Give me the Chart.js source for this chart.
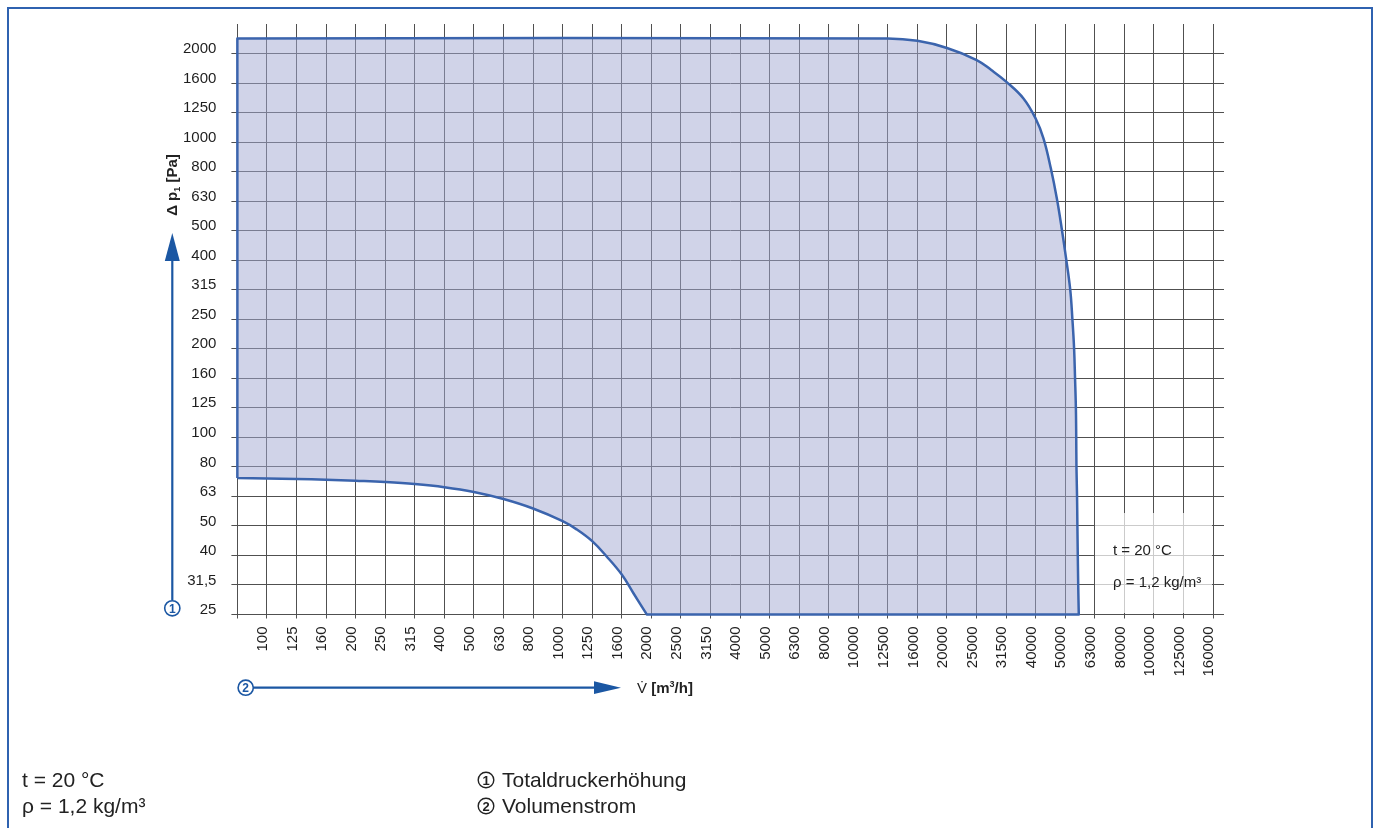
<!DOCTYPE html>
<html>
<head>
<meta charset="utf-8">
<title>Kennfeld</title>
<script src="https://cdn.jsdelivr.net/npm/chart.js@4.4.1/dist/chart.umd.min.js"></script>
<style>
  html, body { margin: 0; padding: 0; background: #fff; overflow: hidden; }
  body { width: 1376px; height: 828px; position: relative; font-family: "Liberation Sans", Arial, sans-serif; color: #222; }
  #frame { position: absolute; left: 7px; top: 7px; width: 1362px; height: 900px; border: 2px solid #2f62b0; }
  #chart { position: absolute; left: 0; top: 0; }
  #overlay { position: absolute; left: 0; top: 0; }
</style>
</head>
<body>
<div id="frame"></div>
<canvas id="chart" width="1376" height="828"></canvas>
<svg id="overlay" width="1376" height="828" font-family="Liberation Sans, Arial, sans-serif">
  <!-- Hinweisfeld im Diagramm -->
  <rect x="1095" y="513" width="117" height="100" fill="rgba(255,255,255,0.7)"/>
  <text x="1113" y="555" font-size="15" fill="#222">t = 20 °C</text>
  <text x="1113" y="587" font-size="15" fill="#222">ρ = 1,2 kg/m³</text>

  <!-- Pfeil 1: Totaldruckerhöhung -->
  <line x1="172.3" y1="600" x2="172.3" y2="258" stroke="#1b57a3" stroke-width="2.2"/>
  <polygon points="164.8,261 179.8,261 172.3,233" fill="#1b57a3"/>
  <circle cx="172.3" cy="608.3" r="7.6" fill="#fff" stroke="#1b57a3" stroke-width="1.6"/>
  <text x="172.3" y="612.6" text-anchor="middle" font-size="12" font-weight="bold" fill="#1b57a3">1</text>
  <text transform="translate(177,185) rotate(-90)" text-anchor="middle" font-size="15" font-weight="bold" fill="#222">Δ p<tspan font-size="9" dy="3">1</tspan><tspan dy="-3"> [Pa]</tspan></text>

  <!-- Pfeil 2: Volumenstrom -->
  <line x1="253" y1="687.7" x2="598" y2="687.7" stroke="#1b57a3" stroke-width="2.2"/>
  <polygon points="594,681.3 594,694.1 621,687.7" fill="#1b57a3"/>
  <circle cx="245.7" cy="687.7" r="7.6" fill="#fff" stroke="#1b57a3" stroke-width="1.6"/>
  <text x="245.7" y="692" text-anchor="middle" font-size="12" font-weight="bold" fill="#1b57a3">2</text>
  <text x="637" y="693" font-size="15" fill="#222">V̇ <tspan font-weight="bold">[m</tspan><tspan font-weight="bold" font-size="9" dy="-6">3</tspan><tspan font-weight="bold" dy="6">/h]</tspan></text>

  <!-- Legende unten -->
  <text x="22" y="787" font-size="21" fill="#222">t = 20 °C</text>
  <text x="22" y="813" font-size="21" fill="#222">ρ = 1,2 kg/m³</text>
  <circle cx="486" cy="780" r="7.8" fill="none" stroke="#222" stroke-width="1.4"/>
  <text x="486" y="785" text-anchor="middle" font-size="13" font-weight="bold" fill="#222">1</text>
  <text x="502" y="787" font-size="21" fill="#222">Totaldruckerhöhung</text>
  <circle cx="486" cy="806" r="7.8" fill="none" stroke="#222" stroke-width="1.4"/>
  <text x="486" y="811" text-anchor="middle" font-size="13" font-weight="bold" fill="#222">2</text>
  <text x="502" y="813" font-size="21" fill="#222">Volumenstrom</text>
</svg>

<script>
    const GRID_COLOR = '#505050';
    const LINE_COLOR = '#3b64ad';
    const FILL_COLOR = 'rgba(161,167,209,0.5)';
    const LABEL_COLOR = '#1e1e1e';

    // Achsbeschriftungen (Normzahlreihe R10)
    const xTickLabels = ['100', '125', '160', '200', '250', '315', '400', '500', '630', '800',
        '1000', '1250', '1600', '2000', '2500', '3150', '4000', '5000', '6300', '8000',
        '10000', '12500', '16000', '20000', '25000', '31500', '40000', '50000', '63000', '80000',
        '100000', '125000', '160000'];
    const yTickLabels = ['25', '31,5', '40', '50', '63', '80', '100', '125', '160', '200',
        '250', '315', '400', '500', '630', '800', '1000', '1250', '1600', '2000'];

    // obere / rechte Grenze des Kennfelds: Volumenstrom [m3/h] und Druck [Pa]
    const upperFlow = [79.4, 12590, 15850, 19950, 25150, 28180, 31700, 36200, 39800, 42300,
        44800, 46950, 48750, 50450, 52100, 53000, 53700, 54100, 54450, 54600,
        54700, 54950, 55100, 55450, 55700];
    const upperPressure = [2245, 2245, 2203, 2084, 1897, 1754, 1600, 1406, 1202, 1030,
        815, 644, 511, 404, 317, 251, 200, 158.5, 126, 100,
        79.4, 63.1, 50, 31.6, 25.1];

    // untere Grenze (von links nach rechts)
    const lowerFlow = [79.4, 100, 125.9, 158.5, 199.5, 251, 316, 398, 501, 631,
        794, 1000, 1115, 1259, 1409, 1585, 1734, 1928];
    const lowerPressure = [72.8, 72.6, 72.3, 71.9, 71.3, 70.6, 69.5, 67.8, 65.3, 61.8,
        57.4, 52.0, 48.8, 44.5, 39.5, 34.3, 29.7, 25.1];

    // Achsgrenzen: ein Kästchen links von 100 bzw. ueber 2000
    const X_MIN = 100 / Math.pow(10, 0.1);
    const X_MAX = 100 * Math.pow(10, 3.237);
    const Y_MIN = 25.12;
    const Y_MAX = Y_MIN * Math.pow(10, 2.0);

    // geschlossener Umriss; Ecken doppelt, damit die Spline dort nicht ausbeult
    function buildPolygon() {
        var points = [{x: lowerFlow[0], y: lowerPressure[0]}];
        var last = upperFlow.length - 1;
        for (var i = 0; i <= last; i++) {
            var p = {x: upperFlow[i], y: upperPressure[i]};
            points.push(p);
            if (i === 0 || i === last) points.push({x: p.x, y: p.y});
        }
        for (var j = lowerFlow.length - 1; j >= 0; j--) {
            var q = {x: lowerFlow[j], y: lowerPressure[j]};
            points.push(q);
            if (j === lowerFlow.length - 1) points.push({x: q.x, y: q.y});
        }
        return points;
    }

    function xTicks(axis) {
        var ticks = [{value: X_MIN}];
        xTickLabels.forEach((label, k) => ticks.push({value: 100 * Math.pow(10, k / 10)}));
        axis.ticks = ticks;
    }

    function yTicks(axis) {
        var ticks = [];
        for (var k = 0; k <= yTickLabels.length; k++) {
            ticks.push({value: Y_MIN * Math.pow(10, k / 10)});
        }
        axis.ticks = ticks;
    }

    var ctx = document.getElementById('chart').getContext('2d');
    var chart = new Chart(ctx, {
        type: 'scatter',
        data: {
            datasets: [{
                data: buildPolygon(),
                showLine: true,
                fill: 'shape',
                tension: 0.4,
                backgroundColor: FILL_COLOR,
                borderColor: LINE_COLOR,
                borderWidth: 2.5,
                borderJoinStyle: 'round',
                pointRadius: 0,
                clip: 4,
            }]
        },
        options: {
            responsive: false,
            animation: false,
            events: [],
            layout: {padding: {left: 0, top: 24, right: 152, bottom: 0}},
            plugins: {
                legend: {display: false},
                tooltip: {enabled: false},
            },
            scales: {
                x: {
                    type: 'logarithmic',
                    min: X_MIN,
                    max: X_MAX,
                    afterBuildTicks: xTicks,
                    afterFit: (scale) => { scale.height = 828 - 614.5; },
                    border: {display: false},
                    grid: {color: GRID_COLOR, lineWidth: 1, tickLength: 4},
                    ticks: {
                        autoSkip: false,
                        minRotation: 90,
                        maxRotation: 90,
                        padding: 8,
                        labelOffset: -4,
                        color: LABEL_COLOR,
                        font: {family: 'Liberation Sans', size: 15},
                        callback: (value, index) => index === 0 ? '' : xTickLabels[index - 1],
                    },
                },
                y: {
                    type: 'logarithmic',
                    min: Y_MIN,
                    max: Y_MAX,
                    afterBuildTicks: yTicks,
                    afterFit: (scale) => { scale.width = 237.4; },
                    border: {display: false},
                    grid: {
                        lineWidth: 1,
                        tickLength: 6,
                        color: (c) => c.index >= yTickLabels.length ? 'rgba(0,0,0,0)' : GRID_COLOR,
                    },
                    ticks: {
                        autoSkip: false,
                        padding: 15,
                        labelOffset: -4.5,
                        color: LABEL_COLOR,
                        font: {family: 'Liberation Sans', size: 15},
                        callback: (value, index) => index < yTickLabels.length ? yTickLabels[index] : '',
                    },
                },
            },
        },
    });
</script>
</body>
</html>
